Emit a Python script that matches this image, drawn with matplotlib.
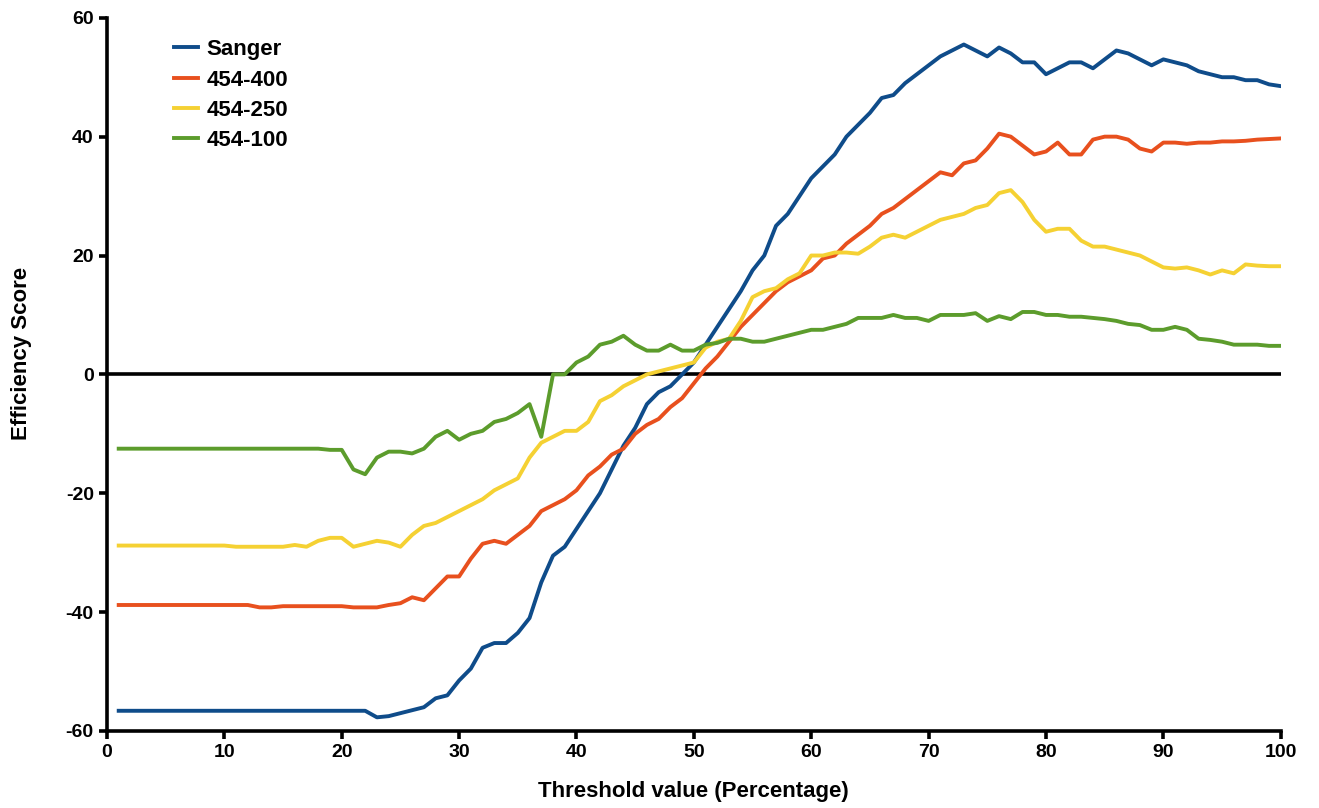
import matplotlib
matplotlib.use("Agg")
import matplotlib.pyplot as plt

plt.rcParams['font.family'] = ['Liberation Sans', 'DejaVu Sans']
plt.rcParams['axes.unicode_minus'] = False

threshold = list(range(1, 101))

sanger = [-56.6] * 22 + [
    -57.7, -57.5, -57.0, -56.5, -56.0, -54.5, -54.0, -51.5, -49.5, -46.0,
    -45.2, -45.2, -43.5, -41.0, -35.0, -30.5, -29.0, -26.0, -23.0, -20.0,
    -16.0, -12.0, -9.0, -5.0, -3.0, -2.0, 0.0, 2.0, 5.0, 8.0,
    11.0, 14.0, 17.5, 20.0, 25.0, 27.0, 30.0, 33.0, 35.0, 37.0,
    40.0, 42.0, 44.0, 46.5, 47.0, 49.0, 50.5, 52.0, 53.5, 54.5,
    55.5, 54.5, 53.5, 55.0, 54.0, 52.5, 52.5, 50.5, 51.5, 52.5,
    52.5, 51.5, 53.0, 54.5, 54.0, 53.0, 52.0, 53.0, 52.5, 52.0,
    51.0, 50.5, 50.0, 50.0, 49.5, 49.5, 48.8, 48.5]

s400 = [-38.8] * 12 + [
    -39.2, -39.2, -39.0, -39.0, -39.0, -39.0, -39.0, -39.0, -39.2, -39.2,
    -39.2, -38.8, -38.5, -37.5, -38.0, -36.0, -34.0, -34.0, -31.0, -28.5,
    -28.0, -28.5, -27.0, -25.5, -23.0, -22.0, -21.0, -19.5, -17.0, -15.5,
    -13.5, -12.5, -10.0, -8.5, -7.5, -5.5, -4.0, -1.5, 1.0, 3.0,
    5.5, 8.0, 10.0, 12.0, 14.0, 15.5, 16.5, 17.5, 19.5, 20.0,
    22.0, 23.5, 25.0, 27.0, 28.0, 29.5, 31.0, 32.5, 34.0, 33.5,
    35.5, 36.0, 38.0, 40.5, 40.0, 38.5, 37.0, 37.5, 39.0, 37.0,
    37.0, 39.5, 40.0, 40.0, 39.5, 38.0, 37.5, 39.0, 39.0, 38.8,
    39.0, 39.0, 39.2, 39.2, 39.3, 39.5, 39.6, 39.7]

s250 = [-28.8] * 10 + [
    -29.0, -29.0, -29.0, -29.0, -29.0, -28.7, -29.0, -28.0, -27.5, -27.5,
    -29.0, -28.5, -28.0, -28.3, -29.0, -27.0, -25.5, -25.0, -24.0, -23.0,
    -22.0, -21.0, -19.5, -18.5, -17.5, -14.0, -11.5, -10.5, -9.5, -9.5,
    -8.0, -4.5, -3.5, -2.0, -1.0, 0.0, 0.5, 1.0, 1.5, 2.0,
    4.5, 5.5, 6.0, 9.0, 13.0, 14.0, 14.5, 16.0, 17.0, 20.0,
    20.0, 20.5, 20.5, 20.3, 21.5, 23.0, 23.5, 23.0, 24.0, 25.0,
    26.0, 26.5, 27.0, 28.0, 28.5, 30.5, 31.0, 29.0, 26.0, 24.0,
    24.5, 24.5, 22.5, 21.5, 21.5, 21.0, 20.5, 20.0, 19.0, 18.0,
    17.8, 18.0, 17.5, 16.8, 17.5, 17.0, 18.5, 18.3, 18.2, 18.2]

s100 = [-12.5] * 18 + [
    -12.7, -12.7, -16.0, -16.8, -14.0, -13.0, -13.0, -13.3, -12.5, -10.5,
    -9.5, -11.0, -10.0, -9.5, -8.0, -7.5, -6.5, -5.0, -10.5, 0.0,
    0.0, 2.0, 3.0, 5.0, 5.5, 6.5, 5.0, 4.0, 4.0, 5.0,
    4.0, 4.0, 5.0, 5.3, 6.0, 6.0, 5.5, 5.5, 6.0, 6.5,
    7.0, 7.5, 7.5, 8.0, 8.5, 9.5, 9.5, 9.5, 10.0, 9.5,
    9.5, 9.0, 10.0, 10.0, 10.0, 10.3, 9.0, 9.8, 9.3, 10.5,
    10.5, 10.0, 10.0, 9.7, 9.7, 9.5, 9.3, 9.0, 8.5, 8.3,
    7.5, 7.5, 8.0, 7.5, 6.0, 5.8, 5.5, 5.0, 5.0, 5.0,
    4.8, 4.8]

labels = ['Sanger', '454-400', '454-250', '454-100']
colors = ['#0f4c8a', '#e8501e', '#f5d133', '#5c9c2c']
series = [sanger, s400, s250, s100]

fig = plt.figure(figsize=(13.19, 8.08), dpi=100)
ax = fig.add_axes([0.0811, 0.0953, 0.8899, 0.8827])

ax.axhline(0, color='black', lw=2.6, zorder=1)
for vals, lab, col in zip(series, labels, colors):
    ax.plot(threshold, vals, color=col, lw=2.8, label=lab, zorder=2)

ax.set_xlim(0, 100)
ax.set_ylim(-60, 60)
ax.set_xticks(range(0, 101, 10))
ax.set_yticks(range(-60, 61, 20))

for s in ['top', 'right']:
    ax.spines[s].set_visible(False)
for s in ['left', 'bottom']:
    ax.spines[s].set_linewidth(2.6)
ax.tick_params(width=2.6, length=6, direction='out', labelsize=14)
for t in ax.get_xticklabels() + ax.get_yticklabels():
    t.set_fontweight('bold')

ax.set_xlabel('Threshold value (Percentage)', fontsize=16, fontweight='bold', labelpad=14)
ax.set_ylabel('Efficiency Score', fontsize=16, fontweight='bold')
ax.yaxis.set_label_coords(-0.064, 0.53)

leg = ax.legend(loc='upper left', bbox_to_anchor=(0.04, 0.998), frameon=False,
                handlelength=1.1, handletextpad=0.35, labelspacing=0.42,
                prop={'weight': 'bold', 'size': 16})

fig.savefig('out.png', dpi=100)
